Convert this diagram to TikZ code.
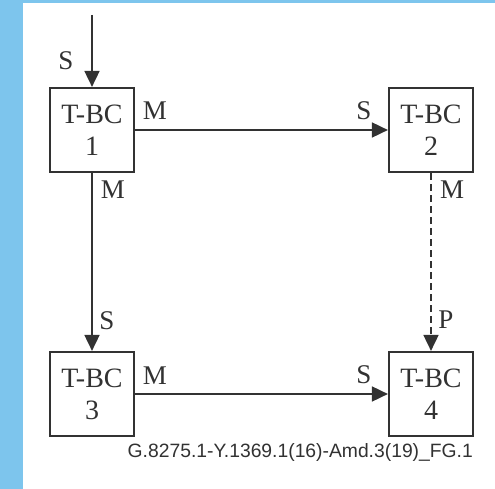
\documentclass[tikz,border=0pt]{standalone}
\usepackage{fontspec}
\setmainfont{Liberation Serif}
\newfontfamily\capfont{Liberation Sans}
\usetikzlibrary{arrows.meta}
\definecolor{stripblue}{RGB}{125,197,237}
\definecolor{ink}{RGB}{50,50,50}
\begin{document}
\begin{tikzpicture}[x=1pt,y=-1pt,
  tbc/.style={draw=ink,line width=2.2pt,minimum width=84pt,minimum height=84pt,inner sep=0pt,
    align=center,text=ink,font=\fontsize{28}{32}\selectfont},
  conn/.style={draw=ink,line width=1.8pt,-{Triangle[length=16pt,width=15pt]}},
  lbl/.style={text=ink,inner sep=0pt,font=\fontsize{27}{30}\selectfont},
  dashconn/.style={conn,dash pattern=on 7pt off 4pt}]
\useasboundingbox (0,0) rectangle (495,489);
\fill[white] (0,0) rectangle (495,489);
\fill[stripblue] (0,0) rectangle (23,489);
\fill[stripblue] (0,0) rectangle (495,3);
\node[tbc] (b1) at (92,130) {T-BC\\1};
\node[tbc] (b2) at (431,130) {T-BC\\2};
\node[tbc] (b3) at (92,394) {T-BC\\3};
\node[tbc] (b4) at (431,394) {T-BC\\4};
\coordinate (in) at (92,15);
\draw[conn] (in) -- (b1.north);
\draw[conn] (b1.east) -- (b2.west);
\draw[conn] (b1.south) -- (b3.north);
\draw[conn] (b3.east) -- (b4.west);
\draw[dashconn] (b2.south) -- (b4.north);
\node[lbl] (s0) at (66,61) {S};
\node[lbl] (m1r) at (155,111) {M};
\node[lbl] (m1b) at (113,190) {M};
\node[lbl] (s3) at (107,321) {S};
\node[lbl] (s2) at (364,111) {S};
\node[lbl] (m2b) at (452,190) {M};
\node[lbl] (p4) at (446,320) {P};
\node[lbl] (m3r) at (155,376) {M};
\node[lbl] (s4) at (364,375) {S};
\node[text=ink,inner sep=0pt,anchor=base east,font=\capfont\fontsize{19.3}{22}\selectfont] (cap) at (473,457) {G.8275.1-Y.1369.1(16)-Amd.3(19)\_FG.1};
\end{tikzpicture}
\end{document}
